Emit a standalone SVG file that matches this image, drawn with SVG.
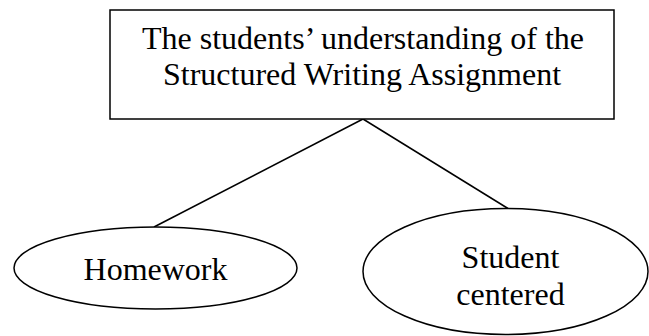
<svg xmlns="http://www.w3.org/2000/svg" width="649" height="336" viewBox="0 0 649 336">
<style>
.shape{fill:#fff;stroke:#000;stroke-width:1.5}
.conn{stroke:#000;stroke-width:1.5;fill:none}
text{font-family:"Liberation Serif","Times New Roman",serif;font-size:32px;fill:#000;text-anchor:middle}
</style>
<rect width="649" height="336" fill="#fff"/>
<g id="connectors">
<line class="conn" x1="363" y1="119" x2="154" y2="227"/>
<line class="conn" x1="363" y1="119" x2="508" y2="208.5"/>
</g>
<g id="root">
<rect class="shape" x="110" y="10" width="504" height="109"/>
<text x="363" y="49">The students’ understanding of the</text>
<text x="362" y="85">Structured Writing Assignment</text>
</g>
<g id="homework">
<ellipse class="shape" cx="155.5" cy="268" rx="141.5" ry="41"/>
<text x="155.5" y="280">Homework</text>
</g>
<g id="student-centered">
<ellipse class="shape" cx="505.5" cy="271.5" rx="142.5" ry="63"/>
<text x="510.5" y="268">Student</text>
<text x="510.5" y="305">centered</text>
</g>
</svg>
